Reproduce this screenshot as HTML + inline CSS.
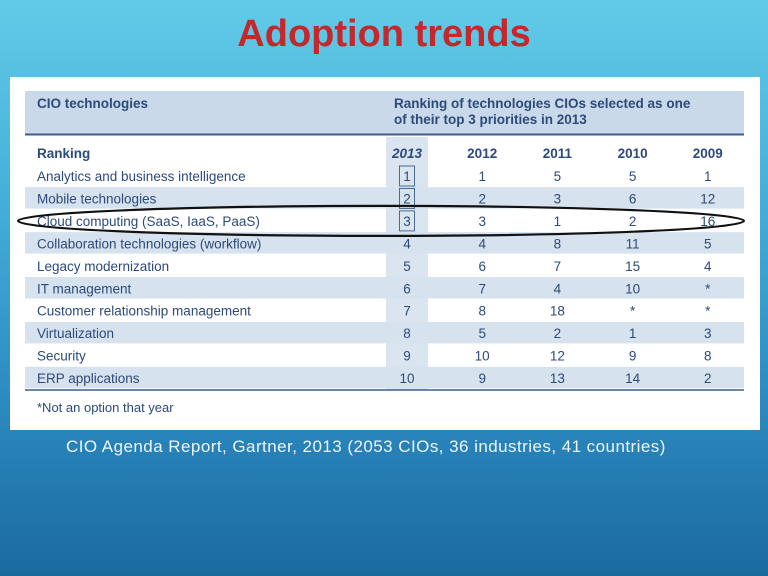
<!DOCTYPE html>
<html><head><meta charset="utf-8"><style>
body{margin:0;width:768px;height:576px;overflow:hidden;font-family:"Liberation Sans",sans-serif;background:linear-gradient(180deg,#62cbe8 0%,#45aed8 35%,#2f8fc4 65%,#1a6aa0 100%);position:relative}
.title{position:absolute;left:0;width:768px;top:13px;text-align:center;font-size:38px;font-weight:bold;color:#c4282c}
.panel{position:absolute;left:10px;top:77px;width:750px;height:353px;background:#fff}
.caption{position:absolute;left:66px;top:437px;font-size:17px;letter-spacing:0.45px;color:#eef6fb;white-space:nowrap}
</style></head><body>
<div class="title">Adoption trends</div>
<div class="panel"></div>
<svg id="tbl" width="768" height="576" style="position:absolute;left:0;top:0"></svg>
<div class="caption">CIO Agenda Report, Gartner, 2013 (2053 CIOs, 36 industries, 41 countries)</div>
<script>
const technologies=["Analytics and business intelligence","Mobile technologies","Cloud computing (SaaS, IaaS, PaaS)","Collaboration technologies (workflow)","Legacy modernization","IT management","Customer relationship management","Virtualization","Security","ERP applications"];
const years=["2013","2012","2011","2010","2009"];
const rank2013=["1","2","3","4","5","6","7","8","9","10"];
const rank2012=["1","2","3","4","6","7","8","5","10","9"];
const rank2011=["5","3","1","8","7","4","18","2","12","13"];
const rank2010=["5","6","2","11","15","10","*","1","9","14"];
const rank2009=["1","12","16","5","4","*","*","3","8","2"];
const cols=[rank2013,rank2012,rank2011,rank2010,rank2009];
const svg=document.getElementById('tbl');const NS="http://www.w3.org/2000/svg";
function el(t,a,txt){const e=document.createElementNS(NS,t);for(const k in a)e.setAttribute(k,a[k]);if(txt!==undefined)e.textContent=txt;svg.appendChild(e);return e;}
const colX=i=>407+i*75.2, rowY=i=>176+i*22.45, rowH=22.45;
let e;
e=el('rect',{x:25,y:91,width:719,height:43,fill:'#c9d9e9'});


el('line',{x1:25,y1:134.5,x2:744,y2:134.5,stroke:'#3c5f8c','stroke-width':2});
e=el('rect',{x:386,y:137,width:42,height:253,fill:'#dae5f0'});


technologies.forEach((t,i)=>{
 if(i%2==1){e=el('rect',{x:25,y:rowY(i)-rowH/2,width:719,height:rowH-1,fill:'#d6e2ee'});
 
 }
});
el('line',{x1:25,y1:390,x2:744,y2:390,stroke:'#3c5f8c','stroke-width':1.5});
const T=(x,y,s,o)=>{const a=Object.assign({x:x,y:y,'font-size':13.5,fill:'#2c4a7a','font-family':'Liberation Sans, sans-serif'},o||{});return el('text',a,s);};
e=T(37,108,'CIO technologies',{'font-weight':'bold'});


e=T(394,108,'Ranking of technologies CIOs selected as one',{'font-weight':'bold'});


T(394,124,'of their top 3 priorities in 2013',{'font-weight':'bold'});
e=T(37,158,'Ranking',{'font-weight':'bold'});


years.forEach((y,i)=>{e=T(colX(i),158,y,{'text-anchor':'middle','font-weight':'bold','font-style':i==0?'italic':'normal'});

});
technologies.forEach((t,i)=>{
 e=T(37,rowY(i)+5,t);
 
 
 cols.forEach((c,j)=>{e=T(colX(j),rowY(i)+5,c[i],{'text-anchor':'middle'});
 
 });
});
for(let i=0;i<3;i++){e=el('rect',{x:399.5,y:rowY(i)-10,width:15,height:20,fill:'none',stroke:'#4a6a94','stroke-width':1});

}
e=T(37,412,'*Not an option that year',{'font-size':13});


e=el('ellipse',{cx:381,cy:rowY(2),rx:363,ry:15,fill:'none',stroke:'#111','stroke-width':2.2});


</script>
</body></html>
